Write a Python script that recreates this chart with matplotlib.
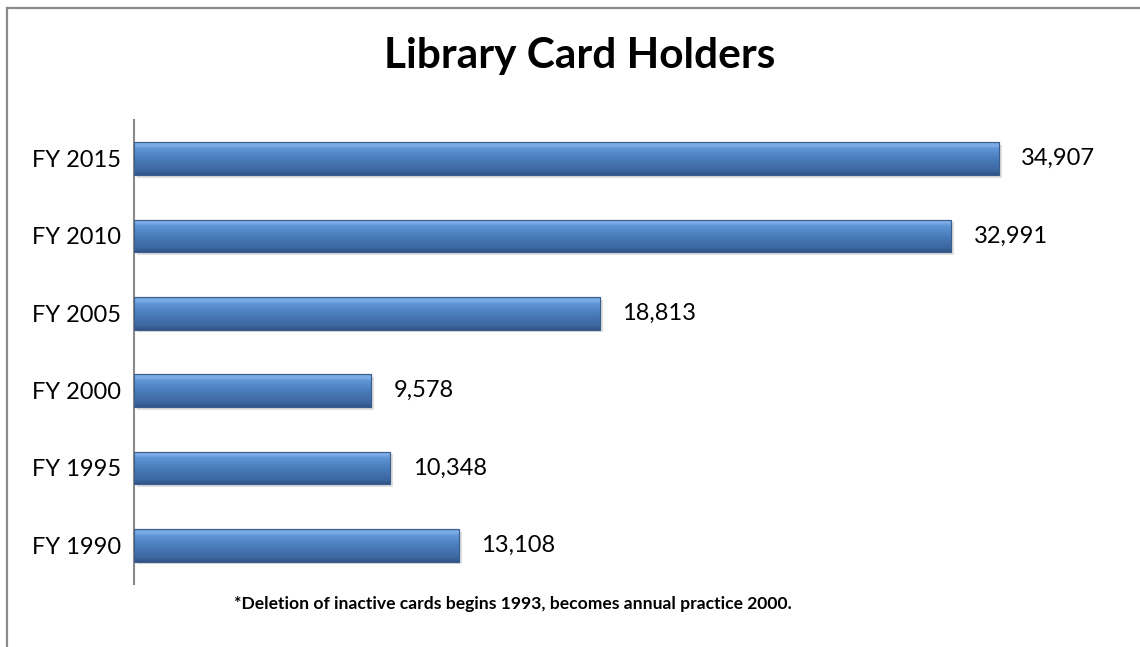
import numpy as np
import matplotlib
matplotlib.use('Agg')
import matplotlib.pyplot as plt
from matplotlib.colors import LinearSegmentedColormap
from matplotlib.patches import Rectangle

plt.rcParams['font.family'] = ['Lato', 'DejaVu Sans']

# data
years = ['FY 1990', 'FY 1995', 'FY 2000', 'FY 2005', 'FY 2010', 'FY 2015']
holders = [13108, 10348, 9578, 18813, 32991, 34907]

fig = plt.figure(figsize=(11.4, 6.47), dpi=100)
fig.patch.set_facecolor('white')

# chart-area border (left and top edges visible)
fig.add_artist(plt.Line2D([7/1140, 7/1140], [0, 1 - 8/647], transform=fig.transFigure,
                          color='#8a8a8a', lw=1.6))
fig.add_artist(plt.Line2D([7/1140, 1], [1 - 8/647, 1 - 8/647], transform=fig.transFigure,
                          color='#8a8a8a', lw=1.6))

ax = fig.add_axes([134/1140, 63/647, 991/1140, 464/647])
ypos = np.arange(len(years))
bar_h = 0.42

# shadows
ax.barh(ypos - 0.035, holders, height=bar_h, left=120, color='#000000', alpha=0.12,
        linewidth=0, zorder=1)
bars = ax.barh(ypos, holders, height=bar_h, color='#4f81bd', edgecolor='#3b5e8c',
               linewidth=0.8, zorder=3)

cmap = LinearSegmentedColormap.from_list('bev', [
    (0.0, '#2f5283'), (0.12, '#3c669f'), (0.5, '#4a7dbc'),
    (0.8, '#5f95d6'), (0.9, '#7fb0ea'), (1.0, '#6c9bd4')])
grad = np.linspace(0, 1, 256).reshape(-1, 1)
for b in bars:
    x0, y0 = b.get_x(), b.get_y()
    w, h = b.get_width(), b.get_height()
    im = ax.imshow(grad, cmap=cmap, aspect='auto', origin='lower',
                   extent=[x0, x0 + w, y0, y0 + h], zorder=4)
    im.set_clip_path(b)
    # outline on top of gradient
    ax.add_patch(Rectangle((x0, y0), w, h, fill=False, edgecolor='#3b5e8c',
                           linewidth=0.8, zorder=5))

for y, v in zip(ypos, holders):
    ax.annotate(f'{v:,}', xy=(v, y), xytext=(16, 0), textcoords='offset points',
                ha='left', va='center', fontsize=17, color='#000000')

ax.set_xlim(0, 40000)
ax.set_ylim(-0.5, len(years) - 0.5)
ax.set_yticks(ypos)
ax.set_yticklabels(years, fontsize=17)
ax.tick_params(axis='y', length=0, pad=9)
ax.set_xticks([])
for s in ['top', 'right', 'bottom']:
    ax.spines[s].set_visible(False)
ax.spines['left'].set_color('#8a8a8a')
ax.spines['left'].set_linewidth(1.5)

fig.text(580/1140, 1 - 56/647, 'Library Card Holders', ha='center', va='center',
         fontsize=30.5, fontweight='bold')
fig.text(513/1140, 1 - 604/647,
         '*Deletion of inactive cards begins 1993, becomes annual practice 2000.',
         ha='center', va='center', fontsize=12.6, fontweight='bold')

fig.savefig('out.png', dpi=100)
